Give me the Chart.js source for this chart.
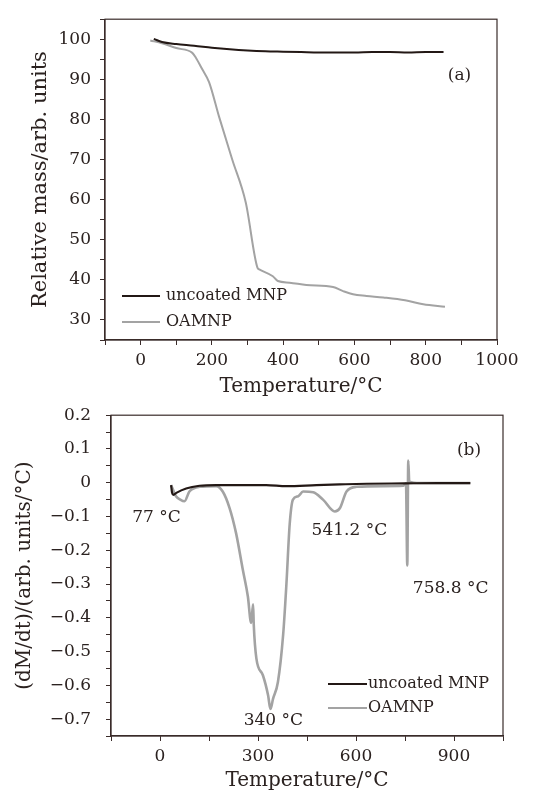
<!DOCTYPE html>
<html>
<head>
<meta charset="utf-8">
<script src="https://cdn.jsdelivr.net/npm/chart.js@4.4.1/dist/chart.umd.min.js"></script>
<style>
  html, body { margin: 0; padding: 0; background: #fff; }
  .box { position: absolute; left: 0; width: 534px; }
  #boxA { top: 0; height: 400px; }
  #boxB { top: 390px; height: 404px; }
</style>
</head>
<body>
<div class="box" id="boxA"><canvas id="chartA"></canvas></div>
<div class="box" id="boxB"><canvas id="chartB"></canvas></div>
<script>
// (a) relative mass vs temperature
const tgaUncoatedT = [37, 60, 100, 150, 200, 250, 300, 350, 400, 450, 500, 550, 600, 650, 700, 750, 800, 850];
const tgaUncoatedM = [100.1, 99.3, 98.8, 98.4, 97.9, 97.5, 97.2, 97.0, 96.9, 96.8, 96.7, 96.7, 96.7, 96.8, 96.8, 96.7, 96.8, 96.8];
const tgaOamnpT = [27, 60, 100, 145, 155, 173, 192, 220, 257, 295, 328, 333, 371, 385, 418, 465, 540, 568, 596, 634, 681, 742, 793, 854];
const tgaOamnpM = [99.7, 99.0, 97.8, 96.6, 95.4, 92.5, 89.3, 80.7, 70.0, 59.3, 43.0, 42.6, 40.9, 39.7, 39.3, 38.7, 38.2, 37.2, 36.4, 36.0, 35.6, 34.9, 33.9, 33.3];

// (b) derivative curves
const dtgUncoatedT = [34, 37, 41, 50, 80, 121, 172, 250, 325, 387, 479, 550, 633, 750, 850, 950];
const dtgUncoatedD = [-0.007, -0.03, -0.036, -0.03, -0.017, -0.009, -0.007, -0.007, -0.007, -0.01, -0.007, -0.005, -0.003, -0.002, -0.001, -0.001];
const dtgOamnpT = [34, 49, 62, 75, 90, 121, 172, 192, 213, 233, 254, 269, 279, 285, 287, 295, 315, 331, 338, 346, 361, 377, 387, 397, 407, 423, 438, 469, 499, 535, 551, 571, 602, 684, 745, 753, 757, 760, 763, 796, 950];
const dtgOamnpD = [-0.007, -0.04, -0.05, -0.055, -0.026, -0.012, -0.01, -0.026, -0.075, -0.15, -0.26, -0.337, -0.415, -0.36, -0.42, -0.52, -0.57, -0.63, -0.67, -0.64, -0.59, -0.45, -0.3, -0.123, -0.05, -0.04, -0.026, -0.028, -0.05, -0.085, -0.075, -0.026, -0.012, -0.01, -0.009, -0.002, -0.245, 0.066, 0.003, -0.001, -0.001];

const seriesNames = ['uncoated MNP', 'OAMNP'];
const labelsA = ['(a)'];
const labelsAPos = [[862, 91]];
const labelsB = ['(b)', '77 °C', '541.2 °C', '758.8 °C', '340 °C'];
const labelsBPos = [[909, 0.095], [-85, -0.103], [464, -0.141], [774, -0.313], [256, -0.703]];

const FONT = "'DejaVu Serif', serif";
const INK = '#2b2220';
const DARK = '#231815';
const GREY = '#a3a3a3';

function pts(xs, ys) {
  return xs.map((x, i) => ({ x: x, y: ys[i] }));
}

function fmt(v, dec) {
  if (Math.abs(v) < 1e-9) return '0';
  const s = Math.abs(v).toFixed(dec);
  return v < 0 ? '\u2212' + s : s;
}

// frame, free text and legend drawn on top of the chart area
const extras = {
  id: 'extras',
  afterDraw(chart, args, opts) {
    const ctx = chart.ctx;
    const a = chart.chartArea;
    ctx.save();
    ctx.strokeStyle = '#3a2c2a';
    ctx.lineWidth = 1.2;
    ctx.strokeRect(a.left, a.top, a.right - a.left, a.bottom - a.top);

    ctx.fillStyle = INK;
    ctx.font = '17px ' + FONT;
    ctx.textAlign = 'left';
    ctx.textBaseline = 'middle';
    opts.texts.forEach((t, i) => {
      const p = opts.pos[i];
      ctx.fillText(t, chart.scales.x.getPixelForValue(p[0]), chart.scales.y.getPixelForValue(p[1]));
    });

    ctx.font = '16px ' + FONT;
    chart.data.datasets.forEach((ds, i) => {
      const y = opts.legendY[i];
      ctx.strokeStyle = ds.borderColor;
      ctx.lineWidth = 2;
      ctx.beginPath();
      ctx.moveTo(opts.legendX[0], y);
      ctx.lineTo(opts.legendX[1], y);
      ctx.stroke();
      ctx.fillText(ds.label, opts.legendX[2], y);
    });
    ctx.restore();
  }
};

function axis(min, max, step, every, dec, title, opt) {
  return {
    type: 'linear',
    min: min,
    max: max,
    border: { color: '#3a2c2a', width: 1.2 },
    grid: { display: true, drawOnChartArea: false, tickLength: 5, color: '#3a2c2a', tickWidth: 1 },
    ticks: {
      stepSize: step,
      autoSkip: false,
      maxRotation: 0,
      color: INK,
      padding: opt.pad,
      font: { family: FONT, size: 17 },
      callback: function(v) {
        const k = v / every;
        return Math.abs(k - Math.round(k)) < 1e-6 ? fmt(v, dec) : '';
      }
    },
    title: {
      display: true,
      text: title,
      color: INK,
      font: { family: FONT, size: opt.titleSize || 20 },
      padding: opt.titlePad
    },
    afterFit: opt.fit
  };
}

Chart.defaults.animation = false;

new Chart(document.getElementById('chartA'), {
  type: 'line',
  data: {
    datasets: [
      { label: seriesNames[0], data: pts(tgaUncoatedT, tgaUncoatedM), borderColor: DARK, borderWidth: 2, pointRadius: 0, cubicInterpolationMode: 'monotone' },
      { label: seriesNames[1], data: pts(tgaOamnpT, tgaOamnpM), borderColor: GREY, borderWidth: 2, pointRadius: 0, cubicInterpolationMode: 'monotone' }
    ]
  },
  options: {
    responsive: true,
    maintainAspectRatio: false,
    layout: { padding: { left: 0, right: 37, top: 15, bottom: 0 } },
    plugins: {
      legend: { display: false },
      tooltip: { enabled: false },
      extras: { texts: labelsA, pos: labelsAPos, legendX: [122, 160, 166], legendY: [296, 322] }
    },
    scales: {
      x: axis(-100, 1000, 100, 200, 0, 'Temperature/°C', { pad: 5, titlePad: { top: 0, bottom: 1 }, fit: s => { s.height = 60; } }),
      y: axis(25, 105, 5, 10, 0, 'Relative mass/arb. units', { titleSize: 21, pad: 9, titlePad: { top: 28, bottom: 0 }, fit: s => { s.width = 105; } })
    }
  },
  plugins: [extras]
});

new Chart(document.getElementById('chartB'), {
  type: 'line',
  data: {
    datasets: [
      { label: seriesNames[0], data: pts(dtgUncoatedT, dtgUncoatedD), borderColor: DARK, borderWidth: 2.2, pointRadius: 0, cubicInterpolationMode: 'monotone' },
      { label: seriesNames[1], data: pts(dtgOamnpT, dtgOamnpD), borderColor: GREY, borderWidth: 2.6, pointRadius: 0, cubicInterpolationMode: 'monotone' }
    ]
  },
  options: {
    responsive: true,
    maintainAspectRatio: false,
    layout: { padding: { left: 0, right: 31, top: 19, bottom: 0 } },
    plugins: {
      legend: { display: false },
      tooltip: { enabled: false },
      extras: { texts: labelsB, pos: labelsBPos, legendX: [328, 367, 368], legendY: [294, 318] }
    },
    scales: {
      x: axis(-150, 1050, 150, 300, 0, 'Temperature/°C', { pad: 5, titlePad: { top: 0, bottom: 1 }, fit: s => { s.height = 58; } }),
      y: axis(-0.75, 0.2, 0.05, 0.1, 1, '(dM/dt)/(arb. units/°C)', { pad: 15, titlePad: { top: 13, bottom: 0 }, fit: s => { s.width = 111; } })
    }
  },
  plugins: [extras]
});
</script>
</body>
</html>
